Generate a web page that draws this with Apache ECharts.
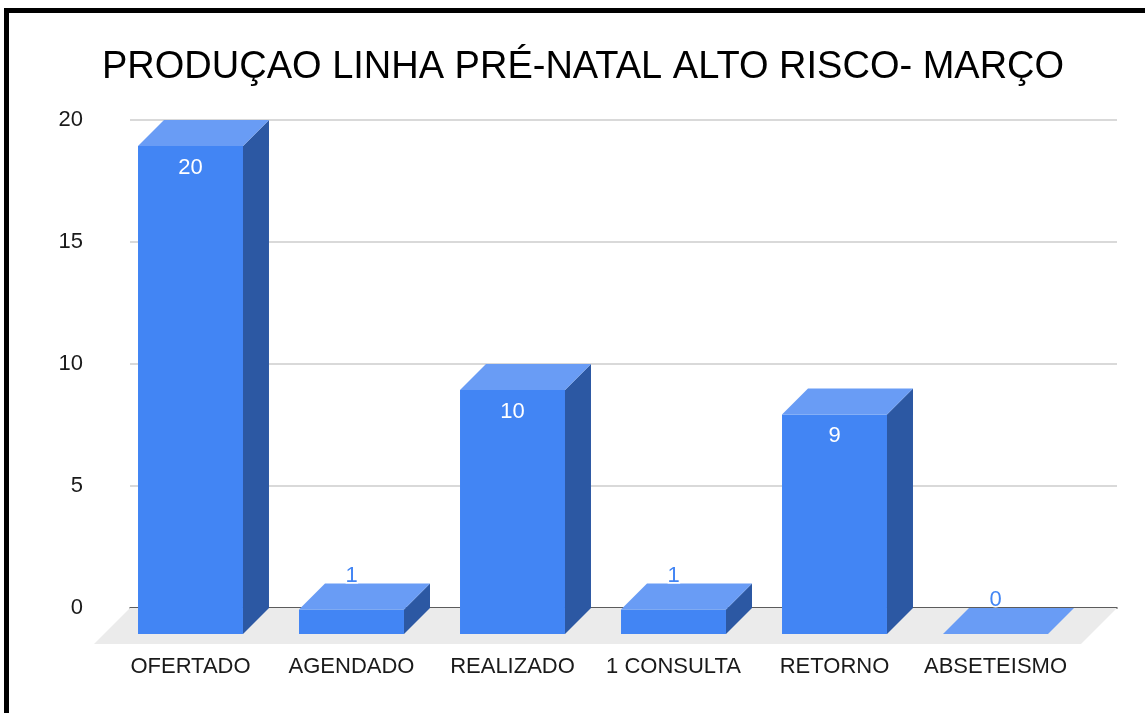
<!DOCTYPE html>
<html>
<head>
<meta charset="utf-8">
<title>Produção linha pré-natal</title>
<script src="https://cdn.jsdelivr.net/npm/echarts@6/dist/echarts.min.js"></script>
<style>
    html, body { margin: 0; padding: 0; background: #fff; }
    #chart { width: 1145px; height: 713px; }
</style>
</head>
<body>
<div id="chart"></div>
<script>
/**
 ******************************** data ********************************
 */
var TITLE = 'PRODUÇAO LINHA PRÉ-NATAL ALTO RISCO- MARÇO';
var categories = ['OFERTADO', 'AGENDADO', 'REALIZADO', '1 CONSULTA', 'RETORNO', 'ABSETEISMO'];
var values = [20, 1, 10, 1, 9, 0];
var yTicks = [0, 5, 10, 15, 20];

// colours of the 3d box faces
var FRONT = '#4285F4';
var TOP = '#699CF5';
var SIDE = '#2C58A3';
var FLOOR = '#EBEBEB';
var DEPTH = 26;        // depth of a box, px
var FLOOR_DEPTH = 36;  // depth of the floor, px
var FONT = '22px "Liberation Sans", Arial, sans-serif';

// ***********************************************************************

/**
 * draws one 3d column: front face, top face, right side and its label
 */
function renderBox(params, api) {
    var v = api.value(1);
    var base = api.coord([api.value(0), 0]);
    var top = api.coord([api.value(0), v]);
    var w = api.size([1, 0])[0] * 0.652;
    var x0 = base[0] - w / 2, x1 = base[0] + w / 2;
    var yb = base[1], yt = top[1];
    var d = DEPTH;
    var children = [];

    if (yb - yt > 0.5) {
        children.push({
            type: 'rect',
            shape: { x: x0, y: yt, width: w, height: yb - yt },
            style: { fill: FRONT }
        });
        children.push({
            type: 'polygon',
            shape: { points: [[x1, yt], [x1 + d, yt - d], [x1 + d, yb - d], [x1, yb]] },
            style: { fill: SIDE }
        });
    }
    children.push({
        type: 'polygon',
        shape: { points: [[x0, yt], [x1, yt], [x1 + d, yt - d], [x0 + d, yt - d]] },
        style: { fill: TOP }
    });

    // label inside the front face when it fits, above the box otherwise
    if (yb - yt > 40) {
        children.push({
            type: 'text',
            style: {
                text: String(v), x: base[0], y: yt + 22,
                align: 'center', verticalAlign: 'middle',
                fill: '#fff', font: FONT
            }
        });
    } else {
        children.push({
            type: 'text',
            style: {
                text: String(v), x: base[0], y: yt - d + 3,
                align: 'center', verticalAlign: 'bottom',
                fill: FRONT, stroke: '#fff', lineWidth: 3,
                font: FONT
            }
        });
    }
    return { type: 'group', children: children };
}

/**
 * grey floor under the back plane
 */
function renderFloor(params, api) {
    var cs = params.coordSys;
    var y = cs.y + cs.height;
    var f = FLOOR_DEPTH;
    return {
        type: 'polygon',
        shape: { points: [[cs.x, y], [cs.x + cs.width, y], [cs.x + cs.width - f, y + f], [cs.x - f, y + f]] },
        style: { fill: FLOOR }
    };
}

var chart = echarts.init(document.getElementById('chart'), null, { renderer: 'canvas' });

var option = {
    backgroundColor: '#fff',
    animation: false,
    textStyle: { fontFamily: '"Liberation Sans", Arial, sans-serif' },
    title: {
        text: TITLE,
        left: 97,
        top: 44,
        textStyle: { fontSize: 38, fontWeight: 'normal', color: '#000' }
    },
    graphic: [{
        // black frame round the picture
        type: 'rect',
        z: 100,
        shape: { x: 6.5, y: 10.5, width: 1300, height: 900 },
        style: { fill: 'none', stroke: '#000', lineWidth: 5 }
    }],
    grid: [
        { left: 130, right: 28, top: 120, bottom: 105 },   // back plane
        { left: 110, right: 69, top: 146, bottom: 79 }     // front plane of the boxes
    ],
    xAxis: [
        {
            gridIndex: 0, type: 'value', min: 0, max: 1,
            axisLine: { show: true, onZero: false, lineStyle: { color: '#333', width: 1.5 } },
            axisTick: { show: false }, axisLabel: { show: false }, splitLine: { show: false }
        },
        {
            gridIndex: 1, type: 'category', data: categories,
            axisLine: { show: false }, axisTick: { show: false },
            axisLabel: { interval: 0, fontSize: 22, color: '#1a1a1a', margin: 22 }
        }
    ],
    yAxis: [
        {
            gridIndex: 0, type: 'value', min: yTicks[0], max: yTicks[yTicks.length - 1], interval: 5,
            axisLine: { show: false }, axisTick: { show: false },
            axisLabel: { fontSize: 22, color: '#1a1a1a', margin: 47 },
            splitLine: { lineStyle: { color: '#ccc', width: 1.5 } }
        },
        {
            gridIndex: 1, type: 'value', min: yTicks[0], max: yTicks[yTicks.length - 1],
            show: false
        }
    ],
    series: [
        {
            type: 'custom',
            xAxisIndex: 0, yAxisIndex: 0,
            renderItem: renderFloor,
            data: [[0, 0]],
            z: 1,
            silent: true
        },
        {
            type: 'custom',
            xAxisIndex: 1, yAxisIndex: 1,
            renderItem: renderBox,
            data: values.map(function (v, i) { return [i, v]; }),
            z: 10
        }
    ]
};

chart.setOption(option);
</script>
</body>
</html>
